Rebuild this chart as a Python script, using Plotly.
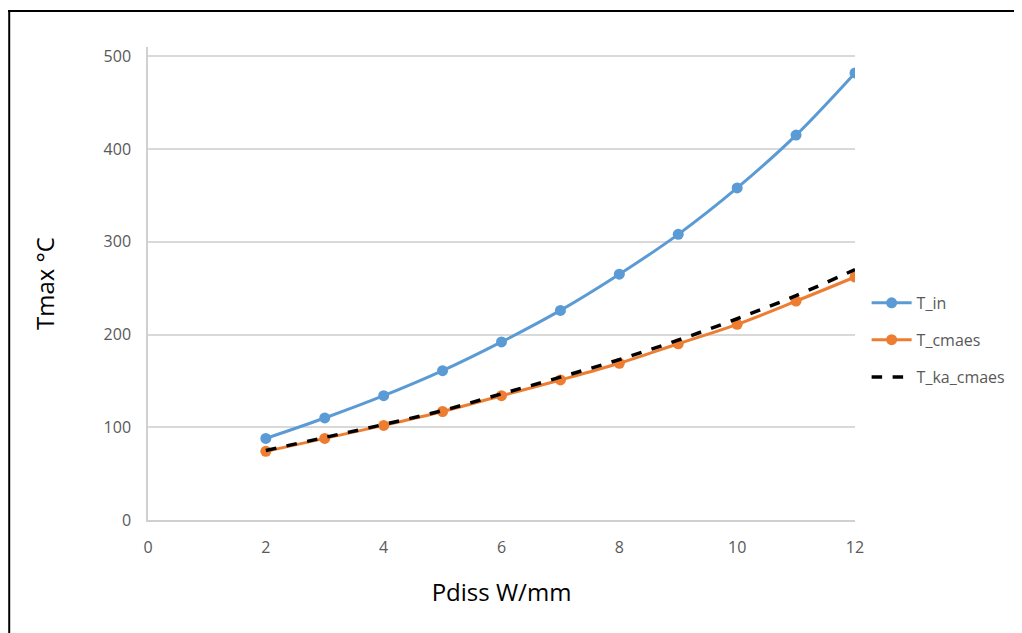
import plotly.graph_objects as go

pdiss = [2, 3, 4, 5, 6, 7, 8, 9, 10, 11, 12]
t_in = [88, 110, 134, 161, 192, 226, 265, 308, 358, 415, 482]
t_cmaes = [74, 88, 102, 117, 134, 151, 169, 190, 211, 236, 262]
t_ka_cmaes = [75, 89, 103, 118, 136, 154, 173, 194, 217, 242, 270]

font = "Open Sans, sans-serif"

fig = go.Figure()
fig.add_trace(go.Scatter(x=pdiss, y=t_in, name="T_in", mode="lines+markers", legend="legend",
                         line=dict(color="#5B9BD5", width=3, shape="spline"),
                         marker=dict(size=11, color="#5B9BD5")))
fig.add_trace(go.Scatter(x=pdiss, y=t_cmaes, name="T_cmaes", mode="lines+markers", legend="legend2",
                         line=dict(color="#ED7D31", width=3, shape="spline"),
                         marker=dict(size=11, color="#ED7D31")))
fig.add_trace(go.Scatter(x=pdiss, y=t_ka_cmaes, name="T_ka_cmaes", mode="lines", legend="legend3",
                         line=dict(color="black", width=3.5, dash="dash", shape="spline")))

# frame (top and left edges only)
fig.add_shape(type="line", xref="paper", yref="paper", x0=-0.2, x1=1.3, y0=1.076, y1=1.076,
              line=dict(color="black", width=2))
fig.add_shape(type="line", xref="paper", yref="paper", x0=-0.1963, x1=-0.1963, y0=-0.5, y1=1.076,
              line=dict(color="black", width=2))

leg = dict(x=1.015, xanchor="left", yanchor="middle", font=dict(size=16, color="#595959"),
           bgcolor="rgba(0,0,0,0)", itemwidth=40)
fig.update_layout(
    width=1014, height=625,
    margin=dict(l=140, r=166, t=39, b=113),
    paper_bgcolor="white", plot_bgcolor="white",
    font=dict(family=font, color="#595959", size=16),
    showlegend=True,
    legend=dict(leg, y=0.459),
    legend2=dict(leg, y=0.381),
    legend3=dict(leg, y=0.302),
)
fig.update_xaxes(range=[0, 12], dtick=2, showgrid=False, zeroline=False,
                 showline=True, linecolor="#D0D0D0", linewidth=1.5, ticks="",
                 ticklabelstandoff=12,
                 title=dict(text="Pdiss W/mm", font=dict(size=24, color="black"), standoff=27))
fig.update_yaxes(range=[0, 510], tickvals=[0, 100, 200, 300, 400, 500], showgrid=True,
                 gridcolor="#D9D9D9", gridwidth=1.5, zeroline=False,
                 showline=True, linecolor="#D0D0D0", linewidth=1.5, ticks="",
                 ticklabelstandoff=12,
                 title=dict(text="Tmax °C", font=dict(size=24, color="black"), standoff=42))

fig.write_html("out.html")
